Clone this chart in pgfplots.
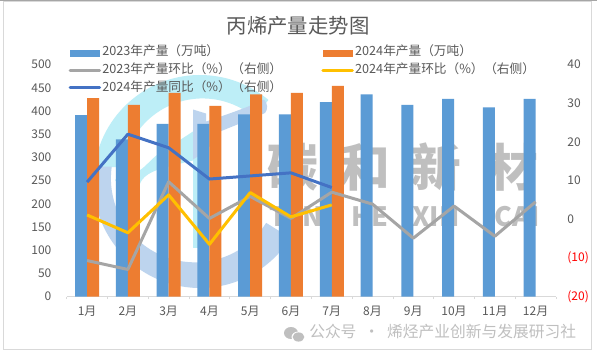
\documentclass[border=0pt]{standalone}
\usepackage{fontspec}
\setmainfont{Noto Sans CJK SC}
\usepackage{pgfplots}
\pgfplotsset{compat=1.18}
\definecolor{barA}{HTML}{5B9BD5}
\definecolor{barB}{HTML}{ED7D31}
\definecolor{lnGray}{HTML}{A5A5A5}
\definecolor{lnYel}{HTML}{FFC000}
\definecolor{lnBlue}{HTML}{4472C4}
\definecolor{txt}{HTML}{595959}
\definecolor{wmCyan}{HTML}{BDEEF7}
\definecolor{wmBlue}{HTML}{BDD4EE}
\definecolor{wmGray}{HTML}{BFBFBF}
\definecolor{frameC}{HTML}{D9D9D9}
\pgfplotstableread{
m v23 
1 391
2 339
3 372
4 372
5 393
6 393
7 419
8 436
9 413
10 426
11 408
12 426
}\tabA
\pgfplotstableread{
m v24
1 428
2 413
3 439
4 411
5 436
6 439
7 454
}\tabB
\pgfplotstableread{
m g
1 -10.7
2 -13
3 9.7
4 0.2
5 5.9
6 0.2
7 7
8 3.9
9 -4.9
10 3.4
11 -4.4
12 4.5
}\tabC
\pgfplotstableread{
m y
1 1.1
2 -3.5
3 6.3
4 -6.5
5 6.9
6 0.6
7 3.7
}\tabD
\pgfplotstableread{
m b
1 9.6
2 22
3 18.5
4 10.4
5 11.2
6 12
7 8.2
}\tabE
\begin{document}
\begin{tikzpicture}[x=0.75pt,y=0.75pt]
% page and frame
\path[use as bounding box] (0,0) rectangle (597,355);
\fill[white] (0,0) rectangle (597,355);
\draw[frameC,line width=0.75pt] (3.5,6) rectangle (591.5,354);
\fill[gray!70] (0,354) rectangle (597,355);
% watermark logo
\begin{scope}[shift={(200,173.5)}]
\fill[wmCyan] (172:106.5) arc[start angle=172,end angle=50,radius=106.5] -- (50:84) arc[start angle=50,end angle=172,radius=80] -- cycle;
\fill[wmBlue] (172:106.5) arc[start angle=172,end angle=328,radius=106.5] -- (328:78) arc[start angle=328,end angle=172,radius=84] -- cycle;
\fill[wmCyan] plot[smooth] coordinates {(-85,1.5) (-75,9.5) (-60,11.5) (-43,26.5) (-20,41.5) (-7,50)} -- plot[smooth] coordinates {(-7,21) (-43,11.5) (-58,1.5) (-67,-21.5)} -- cycle;
\fill[wmCyan] (-7,-66) rectangle (6,30);
\fill[wmBlue] (-7,72) -- (6,68) -- (6,60) .. controls (30,68) and (50,75) .. (64,82) .. controls (68,78) and (68,72) .. (65,68.5) .. controls (50,62) and (30,54) .. (20,50) .. controls (12,38) and (6,28) .. (-3,24.5) -- (-7,22) -- cycle;
\end{scope}
\node[font=\bfseries\fontsize{38}{38}\selectfont,text=wmGray] at (293,188) {碳};
\node[font=\bfseries\fontsize{38}{38}\selectfont,text=wmGray] at (365,188) {和};
\node[font=\bfseries\fontsize{38}{38}\selectfont,text=wmGray] at (436,188) {新};
\node[font=\bfseries\fontsize{38}{38}\selectfont,text=wmGray] at (513,188) {材};
\node[font=\bfseries\fontsize{20}{20}\selectfont,text=wmGray] at (296,138) {TAN};
\node[font=\bfseries\fontsize{20}{20}\selectfont,text=wmGray] at (370,138) {HE};
\node[font=\bfseries\fontsize{20}{20}\selectfont,text=wmGray] at (436,138) {XIN};
\node[font=\bfseries\fontsize{20}{20}\selectfont,text=wmGray] at (517,138) {CAI};
% bars, left axis
\begin{axis}[at={(50.025pt,43.875pt)},anchor=south west,scale only axis,
  width=367pt,height=173.9pt,
  xmin=0.5,xmax=12.5,ymin=0,ymax=500,
  axis x line*=bottom,axis y line*=left,
  axis line style={draw=frameC,line width=0.6pt,-},
  y axis line style={draw=none},
  xtick={1,...,12},xticklabels={1月,2月,3月,4月,5月,6月,7月,8月,9月,10月,11月,12月},
  minor xtick={0.5,1.5,...,12.5},
  major tick length=0pt,
  minor tick length=2pt,
  tick style={draw=frameC,line width=0.6pt},
  minor tick style={draw=frameC,line width=0.6pt},
  ytick={0,50,...,500},
  ytick style={draw=none},
  tick align=outside,
  /pgf/number format/assume math mode=true,
  /pgf/number format/set thousands separator={},
  ticklabel style={font=\fontsize{9}{11}\selectfont,text=txt},
  yticklabel style={xshift=-8pt},
  xticklabel style={yshift=-3.7pt},
  ybar=0pt,bar width=9pt]
\addplot[fill=barA,draw=none] table[x=m,y=v23]{\tabA};
\addplot[fill=barB,draw=none] table[x=m,y=v24]{\tabB};
\end{axis}
% lines, right axis
\begin{axis}[at={(50.025pt,43.875pt)},anchor=south west,scale only axis,
  width=367pt,height=173.9pt,
  xmin=0.5,xmax=12.5,ymin=-20,ymax=40,
  axis x line=none,axis y line*=right,
  y axis line style={draw=none},
  ytick={-20,-10,0,10,20,30,40},
  yticklabels={\textcolor{red}{(20)},\textcolor{red}{(10)},0,10,20,30,40},
  ytick style={draw=none},major tick length=0pt,
  ticklabel style={font=\fontsize{9}{11}\selectfont,text=txt},
  yticklabel style={xshift=5pt},
  legend columns=2,
  legend cell align=left,
  legend style={at={(0,1)},anchor=north west,xshift=1.5pt,yshift=15.5pt,
    draw=none,fill=none,inner sep=0pt,outer sep=0pt,
    font=\fontsize{9.5}{11}\selectfont,text=txt,
    nodes={inner sep=0pt,outer sep=0pt,text height=9pt,text depth=4.2pt},
    /tikz/every even column/.append style={column sep=29.5pt}}]
\addlegendimage{legend image code/.code={\fill[barA] (0pt,-2.25pt) rectangle (22pt,2.25pt);}}
\addlegendentry{\hspace{1pt}2023年产量（万吨）}
\addlegendimage{legend image code/.code={\fill[barB] (0pt,-2.25pt) rectangle (22pt,2.25pt);}}
\addlegendentry{\hspace{1pt}2024年产量（万吨）}
\addplot[lnGray,line width=2.25pt,line join=round,no markers,
  legend image code/.code={\draw[lnGray,line width=2.25pt,line cap=round] (0pt,0pt) -- (22pt,0pt);}] table[x=m,y=g]{\tabC};
\addlegendentry{\hspace{1pt}2023年产量环比（\%）\hspace{0.5pt}（右侧）}
\addplot[lnYel,line width=2.25pt,line join=round,no markers,
  legend image code/.code={\draw[lnYel,line width=2.25pt,line cap=round] (0pt,0pt) -- (22pt,0pt);}] table[x=m,y=y]{\tabD};
\addlegendentry{\hspace{1pt}2024年产量环比（\%）\hspace{0.5pt}（右侧）}
\addplot[lnBlue,line width=2.25pt,line join=round,no markers,
  legend image code/.code={\draw[lnBlue,line width=2.25pt,line cap=round] (0pt,0pt) -- (22pt,0pt);}] table[x=m,y=b]{\tabE};
\addlegendentry{\hspace{1pt}2024年产量同比（\%）\hspace{0.5pt}（右侧）}
\end{axis}
% title and footer
\node[font=\fontsize{15.3}{18}\selectfont,text=txt] at (298,329) {丙烯产量走势图};
\fill[wmGray] (291,22) ellipse[x radius=7,y radius=6];
\fill[white] (298.5,18) ellipse[x radius=7,y radius=5.5];
\fill[wmGray] (298.5,18) ellipse[x radius=5.8,y radius=4.6];
\node[font=\fontsize{11.8}{13}\selectfont,text=wmGray,anchor=west,inner sep=0pt] at (309,23) {公众号\hspace{3pt} · \hspace{3pt}烯烃产业创新与发展研习社};
\end{tikzpicture}
\end{document}
